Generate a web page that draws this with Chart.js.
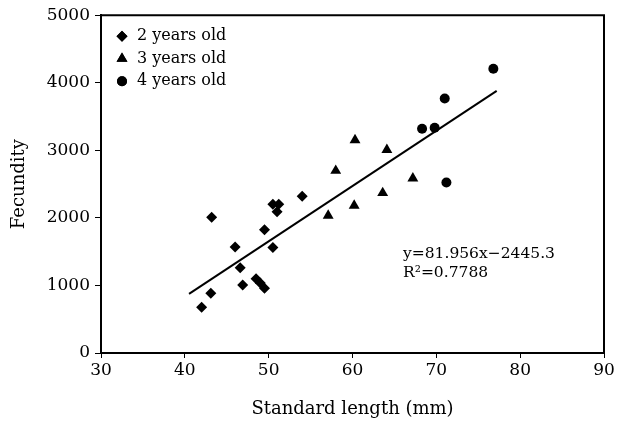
<!DOCTYPE html>
<html>
<head>
<meta charset="utf-8">
<script src="https://cdn.jsdelivr.net/npm/chart.js@4.4.1/dist/chart.umd.min.js"></script>
<style>
  html, body { margin: 0; padding: 0; background: #fff; }
  #wrap { width: 629px; height: 424px; }
</style>
</head>
<body>
<div id="wrap"><canvas id="fecChart" width="629" height="424"></canvas></div>
<script>
// data
const age2Length = [42.0, 43.1, 43.2, 46.0, 46.6, 46.9, 48.5, 49.0, 49.5, 49.5, 50.5, 50.5, 51.2, 51.0, 54.0];
const age2Fecundity = [677, 883, 2010, 1569, 1260, 1005, 1100, 1035, 960, 1825, 1560, 2200, 2200, 2090, 2319];

const age3Length = [57.1, 58.0, 60.2, 60.3, 63.6, 64.1, 67.2];
const age3Fecundity = [2035, 2698, 2182, 3153, 2369, 3006, 2584];

const age4Length = [68.3, 69.8, 71.0, 71.2, 76.8];
const age4Fecundity = [3320, 3334, 3767, 2525, 4208];

// trendline end points
const trendLength = [40.5, 77.2];
const trendFecundity = [874, 3881];

const xTicks = [30, 40, 50, 60, 70, 80, 90];
const yTicks = [0, 1000, 2000, 3000, 4000, 5000];

const seriesNames = ['2 years old', '3 years old', '4 years old'];
const equationLines = ['y=81.956x\u22122445.3', 'R\u00b2=0.7788'];

function toPoints(xs, ys) {
    return xs.map((x, i) => ({ x: x, y: ys[i] }));
}

const FONT = "'DejaVu Serif', serif";

// box around plot area
const frame = {
    id: 'frame',
    afterDraw(chart) {
        const a = chart.chartArea;
        const c = chart.ctx;
        c.save();
        c.strokeStyle = '#000';
        c.lineWidth = 2;
        c.beginPath();
        c.moveTo(a.left, a.top);
        c.lineTo(a.right, a.top);
        c.lineTo(a.right, a.bottom);
        c.stroke();
        c.restore();
    }
};

// legend + equation in the plot
const notes = {
    id: 'notes',
    afterDraw(chart) {
        const c = chart.ctx;
        const a = chart.chartArea;
        c.save();
        c.fillStyle = '#000';
        c.font = '16px ' + FONT;
        c.textBaseline = 'middle';
        const styles = ['rectRot', 'triangle', 'circle'];
        const radii = [5.5, 6.3, 5];
        for (let i = 0; i < 3; i++) {
            const y = a.top + 21 + i * 22.5;
            const opts = { pointStyle: styles[i], radius: radii[i], rotation: 0, borderWidth: 0 };
            c.beginPath();
            Chart.helpers.drawPoint(c, opts, a.left + 21, y);
            c.fill();
            c.fillText(seriesNames[i], a.left + 36, y);
        }
        // equation
        c.font = '15.5px ' + FONT;
        c.textBaseline = 'alphabetic';
        c.fillText(equationLines[0], 403, 258);
        c.fillText(equationLines[1], 403, 277);
        c.restore();
    }
};

const ctx = document.getElementById('fecChart').getContext('2d');

const fecChart = new Chart(ctx, {
    type: 'scatter',
    data: {
        datasets: [
            {
                label: seriesNames[0],
                data: toPoints(age2Length, age2Fecundity),
                pointStyle: 'rectRot',
                pointRadius: 5.5,
                backgroundColor: '#000',
                borderColor: '#000',
                borderWidth: 0
            },
            {
                label: seriesNames[1],
                data: toPoints(age3Length, age3Fecundity),
                pointStyle: 'triangle',
                pointRadius: 6.3,
                backgroundColor: '#000',
                borderColor: '#000',
                borderWidth: 0
            },
            {
                label: seriesNames[2],
                data: toPoints(age4Length, age4Fecundity),
                pointStyle: 'circle',
                pointRadius: 5,
                backgroundColor: '#000',
                borderColor: '#000',
                borderWidth: 0
            },
            {
                label: 'trend',
                type: 'line',
                data: toPoints(trendLength, trendFecundity),
                showLine: true,
                pointRadius: 0,
                borderColor: '#000',
                borderWidth: 2,
                fill: false
            }
        ]
    },
    options: {
        responsive: false,
        animation: false,
        layout: { padding: { top: 13, right: 25, left: 0, bottom: 0 } },
        plugins: {
            legend: { display: false },
            tooltip: { enabled: false }
        },
        scales: {
            x: {
                type: 'linear',
                min: 30,
                max: 90,
                afterBuildTicks: (s) => { s.ticks = xTicks.map(v => ({ value: v })); },
                afterFit: (s) => { s.height = 71; },
                ticks: { color: '#000', font: { family: FONT, size: 17 }, padding: 2, callback: (v) => String(v) },
                grid: { drawOnChartArea: false, color: '#000', tickLength: 5, tickWidth: 1 },
                border: { color: '#000', width: 2 },
                title: {
                    display: true,
                    text: 'Standard length (mm)',
                    color: '#000',
                    font: { family: FONT, size: 18 },
                    padding: { top: 0, bottom: 4 }
                }
            },
            y: {
                min: 0,
                max: 5000,
                afterBuildTicks: (s) => { s.ticks = yTicks.map(v => ({ value: v })); },
                afterFit: (s) => { s.width = 101; },
                ticks: { color: '#000', font: { family: FONT, size: 17 }, padding: 5, callback: (v) => String(v) },
                grid: { drawOnChartArea: false, color: '#000', tickLength: 6, tickWidth: 1 },
                border: { color: '#000', width: 2 },
                title: {
                    display: true,
                    text: 'Fecundity',
                    color: '#000',
                    font: { family: FONT, size: 18 },
                    padding: { top: 9, bottom: 0 }
                }
            }
        }
    },
    plugins: [frame, notes]
});
</script>
</body>
</html>
